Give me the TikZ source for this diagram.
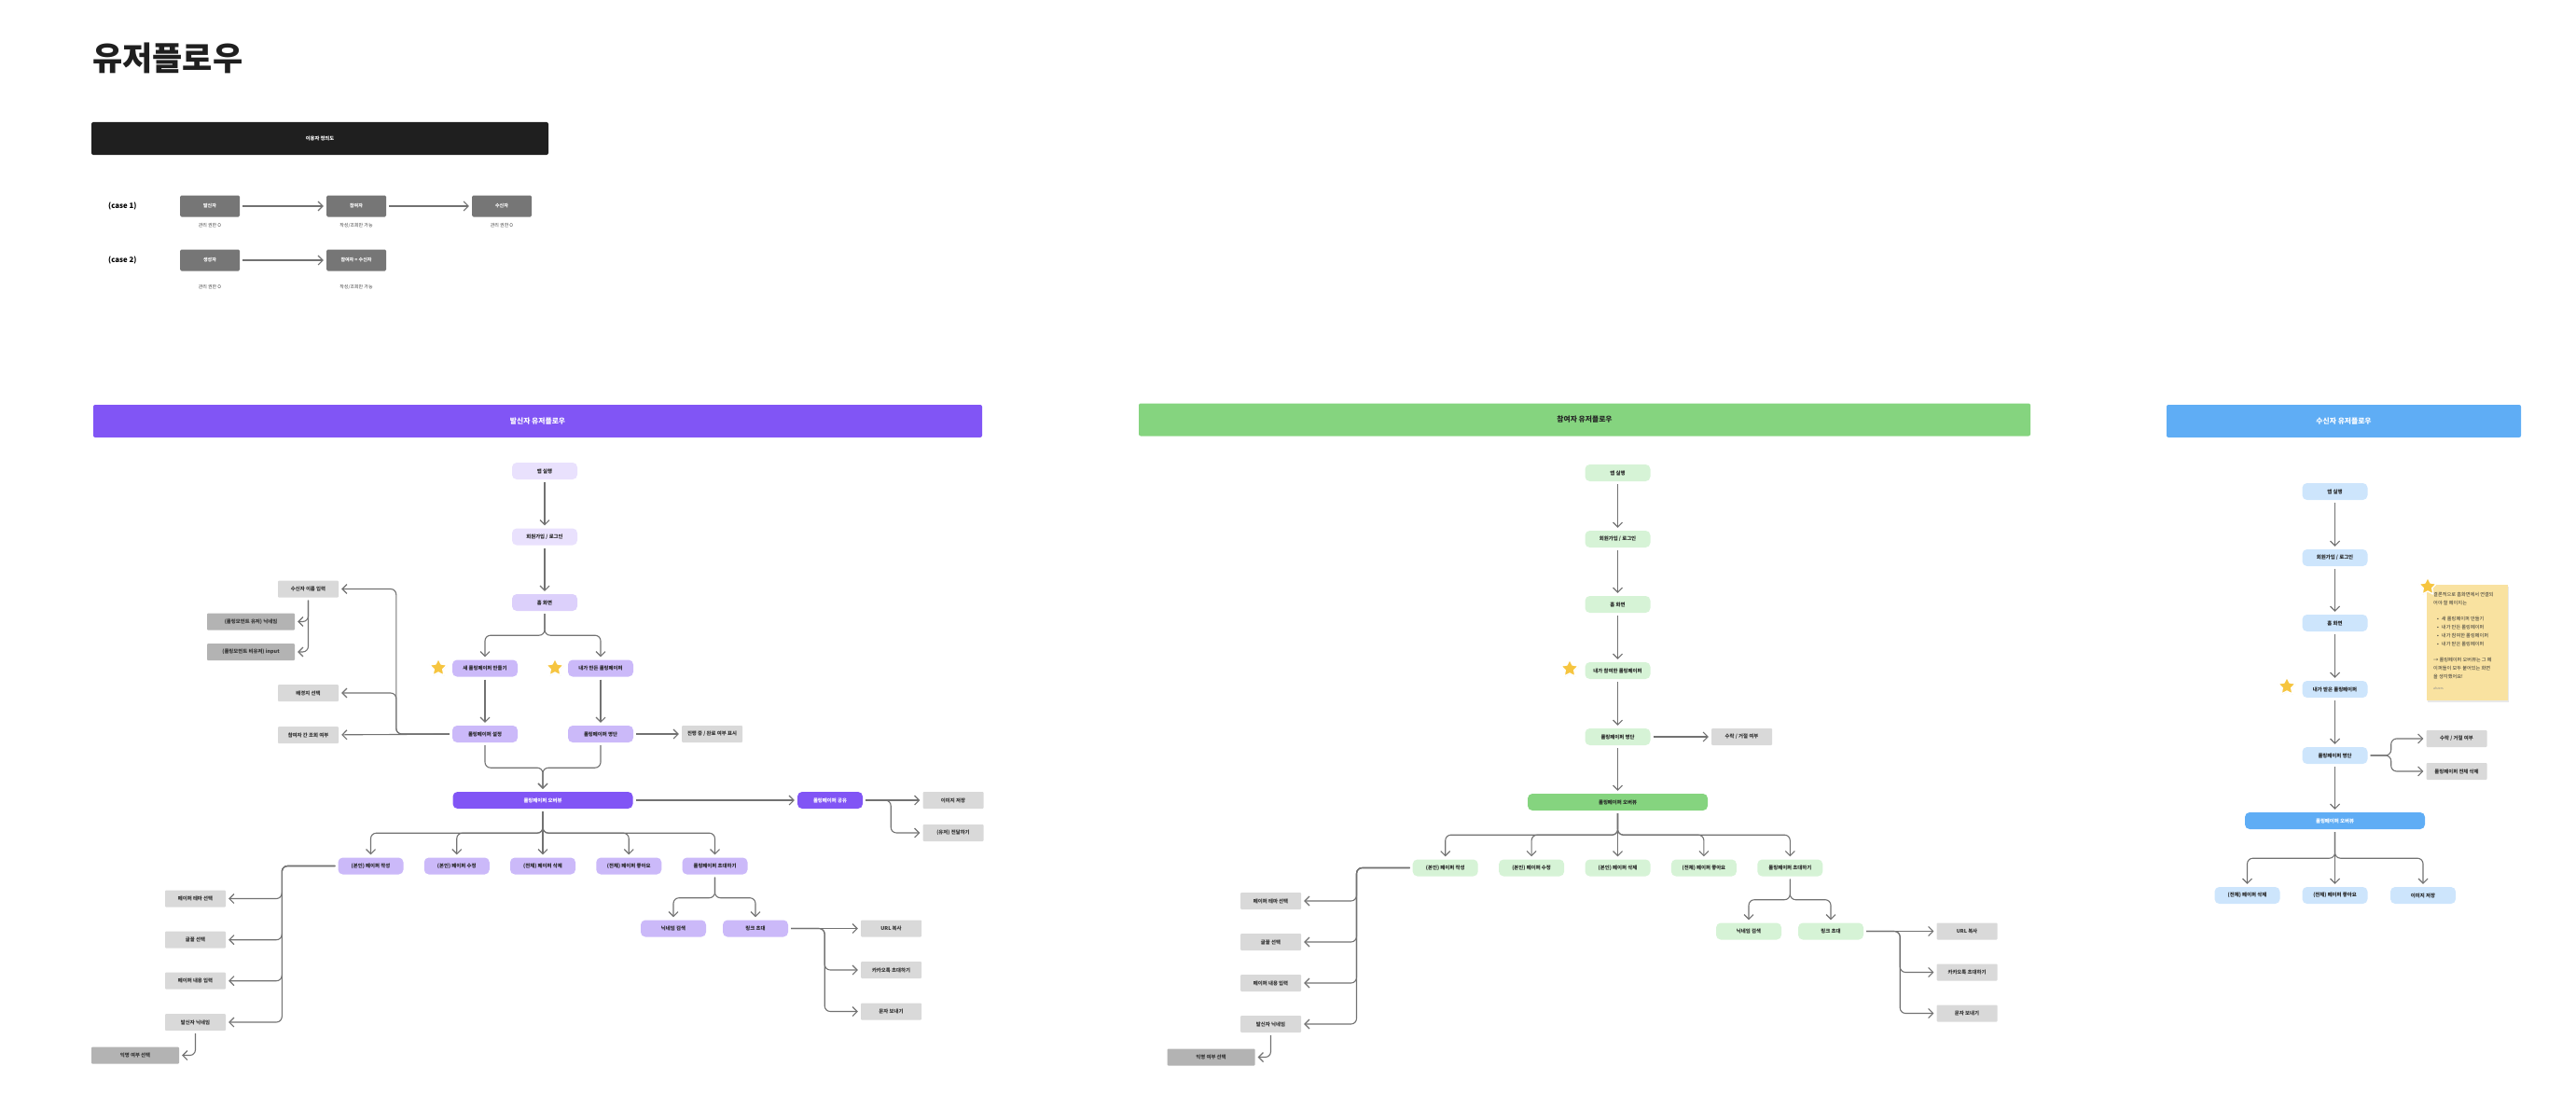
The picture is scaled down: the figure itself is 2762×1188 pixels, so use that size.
\documentclass[tikz,border=0pt]{standalone}
\usepackage{fontspec}
\setmainfont{Noto Sans CJK KR}
\usetikzlibrary{arrows.meta}
\usetikzlibrary{shapes.geometric}
\usetikzlibrary{shadows}
\definecolor{purp}{HTML}{8155F5}
\definecolor{lvA}{HTML}{E9E1FD}
\definecolor{lvB}{HTML}{DCD0FB}
\definecolor{lvC}{HTML}{CBB9F9}
\definecolor{grn}{HTML}{85D47F}
\definecolor{grnL}{HTML}{D6F3D6}
\definecolor{blu}{HTML}{5FADF5}
\definecolor{bluL}{HTML}{CDE5FC}
\definecolor{boxg}{HTML}{D9D9D9}
\definecolor{boxgd}{HTML}{B3B3B3}
\definecolor{caseg}{HTML}{767676}
\definecolor{linec}{HTML}{727272}
\definecolor{stary}{HTML}{F6C540}
\definecolor{notey}{HTML}{F9E2A0}
\newcommand{\fsz}[1]{\fontsize{#1}{#1}\selectfont}

\begin{document}
\begin{tikzpicture}[x=1pt, y=-1pt,
    flow/.style={draw=linec, line width=1.1pt, rounded corners=6pt,
      -{Straight Barb[length=5pt,width=10pt]}, shorten <=3pt, shorten >=3pt},
    pill/.style={rounded corners=5pt, minimum width=70pt, minimum height=18pt,
      inner sep=0pt, font=\fsz{5.4}\bfseries, text=black!85},
    pA/.style={pill,fill=lvA}, pB/.style={pill,fill=lvB}, pC/.style={pill,fill=lvC},
    pG/.style={pill,fill=grnL}, pU/.style={pill,fill=bluL},
    wide/.style={pill, minimum width=193pt},
    gbox/.style={fill=boxg, rounded corners=1pt, minimum width=65pt, minimum height=18pt,
      inner sep=0pt, font=\fsz{5.4}\bfseries, text=black!80},
    gdark/.style={gbox, fill=boxgd, minimum width=94pt},
    head/.style={rounded corners=2pt, minimum height=35pt, inner sep=0pt, font=\fsz{7.8}\bfseries},
    cbox/.style={fill=caseg, rounded corners=1.5pt, minimum width=64pt, minimum height=23pt,
      inner sep=0pt, text=white, font=\fsz{5}\bfseries},
    role/.style={font=\fsz{5}, text=black!75, inner sep=0pt},
    fav/.style={star, star points=5, star point ratio=2.0, minimum size=20pt, inner sep=0pt,
      fill=stary, draw=white, line width=1.4pt, line join=round,
      drop shadow={opacity=0.12, shadow xshift=0.5pt, shadow yshift=-0.8pt}}]
  \useasboundingbox (0,0) rectangle (2762,1188);

  % title + user definition
  \node[anchor=west, inner sep=0pt, font=\fsz{35}\bfseries, text=black!88] (title) at (99,62) {유저플로우};
  \node[head, fill=black!88, minimum width=490pt, text=white, font=\fsz{5.3}\bfseries] (defbar) at (343,148.5) {이용자 정의도};
  \node[anchor=west, inner sep=0pt, font=\fsz{7.8}\bfseries] (case1) at (116,221) {(case 1)};
  \node[anchor=west, inner sep=0pt, font=\fsz{7.8}\bfseries] (case2) at (116,279) {(case 2)};
  \node[cbox] (c1snd) at (225,221) {발신자};
  \node[cbox] (c1prt) at (382,221) {참여자};
  \node[cbox] (c1rcv) at (538,221) {수신자};
  \node[cbox] (c2mk) at (225,279) {생성자};
  \node[cbox] (c2prt) at (382,279) {참여자 = 수신자};
  \node[role] (c1snd-t) at (225,242) {관리 권한 O};
  \node[role] (c1prt-t) at (382,242) {작성/조회만 가능};
  \node[role] (c1rcv-t) at (538,242) {관리 권한 O};
  \node[role] (c2mk-t) at (225,308) {관리 권한 O};
  \node[role] (c2prt-t) at (382,308) {작성/조회만 가능};
  \draw[flow] (c1snd) -- (c1prt);
  \draw[flow] (c1prt) -- (c1rcv);
  \draw[flow] (c2mk) -- (c2prt);

  % ---- sender flow
  \node[head, fill=purp, minimum width=953pt, text=white] (lhead) at (576.5,451.5) {발신자 유저플로우};
  \node[pA] (lapp) at (584,505) {앱 실행};
  \node[pA] (llog) at (584,575.5) {회원가입 / 로그인};
  \node[pB] (lhome) at (584,646) {홈 화면};
  \node[pC] (lnew) at (520,716.5) {새 롤링페이퍼 만들기};
  \node[pC] (lmine) at (644,716.5) {내가 만든 롤링페이퍼};
  \node[fav] (lstarA) at (470,716) {};
  \node[fav] (lstarB) at (595,716) {};
  \node[pC] (lset) at (520,787) {롤링페이퍼 설정};
  \node[pC] (llist) at (644,787) {롤링페이퍼 명단};
  \node[gbox] (lstate) at (763.5,787) {진행 중 / 완료 여부 표시};
  \node[gbox] (lname) at (330.5,631.5) {수신자 이름 입력};
  \node[gdark] (lnick) at (269,666.5) {(롤링모먼트 유저) 닉네임};
  \node[gdark] (linput) at (269,699) {(롤링모먼트 비유저) input};
  \node[gbox] (lbg) at (330.5,743) {배경지 선택};
  \node[gbox] (lview) at (330.5,788) {참여자 간 조회 여부};
  \node[wide, fill=purp, text=white] (lov) at (582,858) {롤링페이퍼 오버뷰};
  \node[pill, fill=purp, text=white] (lshare) at (890,858) {롤링페이퍼 공유};
  \node[gbox] (limg) at (1022,858) {이미지 저장};
  \node[gbox] (lfwd) at (1022,893) {(유저) 전달하기};
  \foreach \t [count=\i] in {{(본인) 페이퍼 작성},{(본인) 페이퍼 수정},{(전체) 페이퍼 삭제},
      {(전체) 페이퍼 좋아요},{롤링페이퍼 초대하기}}
    \node[pC] (lc\i) at ({582+(\i-3)*92.25},928.5) {\t};
  \node[pC] (lsearch) at (722,995.5) {닉네임 검색};
  \node[pC] (llink) at (810,995.5) {링크 초대};
  \node[gbox] (lurl) at (955.5,995.5) {URL 복사};
  \node[gbox] (lkakao) at (955.5,1040) {카카오톡 초대하기};
  \node[gbox] (lsms) at (955.5,1084.5) {문자 보내기};
  \node[gbox] (ltheme) at (209.5,963.5) {페이퍼 테마 선택};
  \node[gbox] (lfont) at (209.5,1007.7) {글꼴 선택};
  \node[gbox] (lbody) at (209.5,1051.7) {페이퍼 내용 입력};
  \node[gbox] (lsnick) at (209.5,1096) {발신자 닉네임};
  \node[gdark] (lanon) at (145,1131.5) {익명 여부 선택};

  \draw[flow] (lapp) -- (llog);
  \draw[flow] (llog) -- (lhome);
  \foreach \n in {lnew,lmine} \draw[flow] (lhome.south) -- ++(0,26) -| (\n.north);
  \draw[flow] (lnew) -- (lset);
  \draw[flow] (lmine) -- (llist);
  \draw[flow] (llist) -- (lstate);
  \foreach \n in {lname,lbg} \draw[flow] (lset.west) -- ++(-60,0) |- (\n.east);
  \draw[flow] (lset) -- (lview);
  \foreach \n in {lnick,linput} \draw[flow] (lname.south) |- (\n.east);
  \foreach \n in {lset,llist} \draw[flow] (\n.south) -- ++(0,27) -| (lov.north);
  \draw[flow] (lov) -- (lshare);
  \draw[flow] (lshare) -- (limg);
  \draw[flow] (lshare.east) -- ++(30,0) |- (lfwd.west);
  \foreach \i in {1,2,4,5} \draw[flow] (lov.south) -- ++(0,26) -| (lc\i.north);
  \draw[flow] (lov) -- (lc3);
  \foreach \n in {lsearch,llink} \draw[flow] (lc5.south) -- ++(0,25) -| (\n.north);
  \draw[flow] (llink) -- (lurl);
  \foreach \n in {lkakao,lsms} \draw[flow] (llink.east) -- ++(39,0) |- (\n.west);
  \foreach \n in {ltheme,lfont,lbody,lsnick} \draw[flow] (lc1.west) -- ++(-60,0) |- (\n.east);
  \draw[flow] (lsnick.south) |- (lanon.east);

  % ---- participant flow
  \node[head, fill=grn, minimum width=956pt, text=black!85] (mhead) at (1699,450) {참여자 유저플로우};
  \node[pG] (mapp) at (1734.5,507) {앱 실행};
  \node[pG] (mlog) at (1734.5,578) {회원가입 / 로그인};
  \node[pG] (mhome) at (1734.5,648) {홈 화면};
  \node[pG] (mmine) at (1734.5,719) {내가 참여한 롤링페이퍼};
  \node[fav] (mstar) at (1683,717) {};
  \node[pG] (mlist) at (1734.5,790) {롤링페이퍼 명단};
  \node[gbox] (macc) at (1867.5,790) {수락 / 거절 여부};
  \node[wide, fill=grn] (mov) at (1734.5,860) {롤링페이퍼 오버뷰};
  \foreach \t [count=\i] in {{(본인) 페이퍼 작성},{(본인) 페이퍼 수정},{(본인) 페이퍼 삭제},
      {(전체) 페이퍼 좋아요},{롤링페이퍼 초대하기}}
    \node[pG] (mc\i) at ({1734.5+(\i-3)*92.4},930.5) {\t};
  \node[pG] (msearch) at (1875,998.5) {닉네임 검색};
  \node[pG] (mlink) at (1963,998.5) {링크 초대};
  \node[gbox] (murl) at (2109,998.5) {URL 복사};
  \node[gbox] (mkakao) at (2109,1042.5) {카카오톡 초대하기};
  \node[gbox] (msms) at (2109,1086.5) {문자 보내기};
  \node[gbox] (mtheme) at (1362.5,966) {페이퍼 테마 선택};
  \node[gbox] (mfont) at (1362.5,1010) {글꼴 선택};
  \node[gbox] (mbody) at (1362.5,1054) {페이퍼 내용 입력};
  \node[gbox] (msnick) at (1362.5,1098) {발신자 닉네임};
  \node[gdark] (manon) at (1298.5,1133.5) {익명 여부 선택};

  \draw[flow] (mapp) -- (mlog);
  \draw[flow] (mlog) -- (mhome);
  \draw[flow] (mhome) -- (mmine);
  \draw[flow] (mmine) -- (mlist);
  \draw[flow] (mlist) -- (macc);
  \draw[flow] (mlist) -- (mov);
  \foreach \i in {1,2,4,5} \draw[flow] (mov.south) -- ++(0,26) -| (mc\i.north);
  \draw[flow] (mov) -- (mc3);
  \foreach \n in {msearch,mlink} \draw[flow] (mc5.south) -- ++(0,25) -| (\n.north);
  \draw[flow] (mlink) -- (murl);
  \foreach \n in {mkakao,msms} \draw[flow] (mlink.east) -- ++(39,0) |- (\n.west);
  \foreach \n in {mtheme,mfont,mbody,msnick} \draw[flow] (mc1.west) -- ++(-60,0) |- (\n.east);
  \draw[flow] (msnick.south) |- (manon.east);

  % ---- receiver flow
  \node[head, fill=blu, minimum width=380pt, text=white] (rhead) at (2513,451.5) {수신자 유저플로우};
  \node[pU] (rapp) at (2503.5,527) {앱 실행};
  \node[pU] (rlog) at (2503.5,598) {회원가입 / 로그인};
  \node[pU] (rhome) at (2503.5,668) {홈 화면};
  \node[pU] (rmine) at (2503.5,739) {내가 받은 롤링페이퍼};
  \node[fav] (rstar) at (2452,736) {};
  \node[pU] (rlist) at (2503.5,810) {롤링페이퍼 명단};
  \node[gbox] (racc) at (2634,792) {수락 / 거절 여부};
  \node[gbox] (rdel) at (2634,827) {롤링페이퍼 전체 삭제};
  \node[wide, fill=blu, text=white] (rov) at (2503.5,880) {롤링페이퍼 오버뷰};
  \node[pU] (rc1) at (2409.5,960) {(전체) 페이퍼 삭제};
  \node[pU] (rc2) at (2503.5,960) {(전체) 페이퍼 좋아요};
  \node[pU] (rc3) at (2598,960) {이미지 저장};

  \draw[flow] (rapp) -- (rlog);
  \draw[flow] (rlog) -- (rhome);
  \draw[flow] (rhome) -- (rmine);
  \draw[flow] (rmine) -- (rlist);
  \foreach \n in {racc,rdel} \draw[flow] (rlist.east) -- ++(25,0) |- (\n.west);
  \draw[flow] (rlist) -- (rov);
  \foreach \n in {rc1,rc3} \draw[flow] (rov.south) -- ++(0,31) -| (\n.north);
  \draw[flow] (rov) -- (rc2);

  % sticky note
  \node[fill=notey, minimum width=87pt, minimum height=124pt, inner sep=0pt,
    drop shadow={opacity=0.18, shadow xshift=1pt, shadow yshift=-1.5pt}] (memo) at (2645.5,689) {};
  \node[anchor=north west, align=left, inner sep=0pt, text=black!80, font=\fontsize{5.2}{9}\selectfont]
    (memotxt) at (2609,635) {결론적으로 홈화면에서 연결되\\어야 할 페이지는\\[8pt]
    \hspace{4pt}•\hspace{3pt}새 롤링페이퍼 만들기\\
    \hspace{4pt}•\hspace{3pt}내가 만든 롤링페이퍼\\
    \hspace{4pt}•\hspace{3pt}내가 참여한 롤링페이퍼\\
    \hspace{4pt}•\hspace{3pt}내가 받은 롤링페이퍼\\[8pt]
    → 롤링페이퍼 오버뷰는 그 페\\이퍼들이 모두 붙어있는 화면\\을 생각했어요!\\[3pt]
    {\fsz{3.5}\color{black!45}ahzers}};
  \node[fav] (memostar) at (2603,629) {};
\end{tikzpicture}
\end{document}
